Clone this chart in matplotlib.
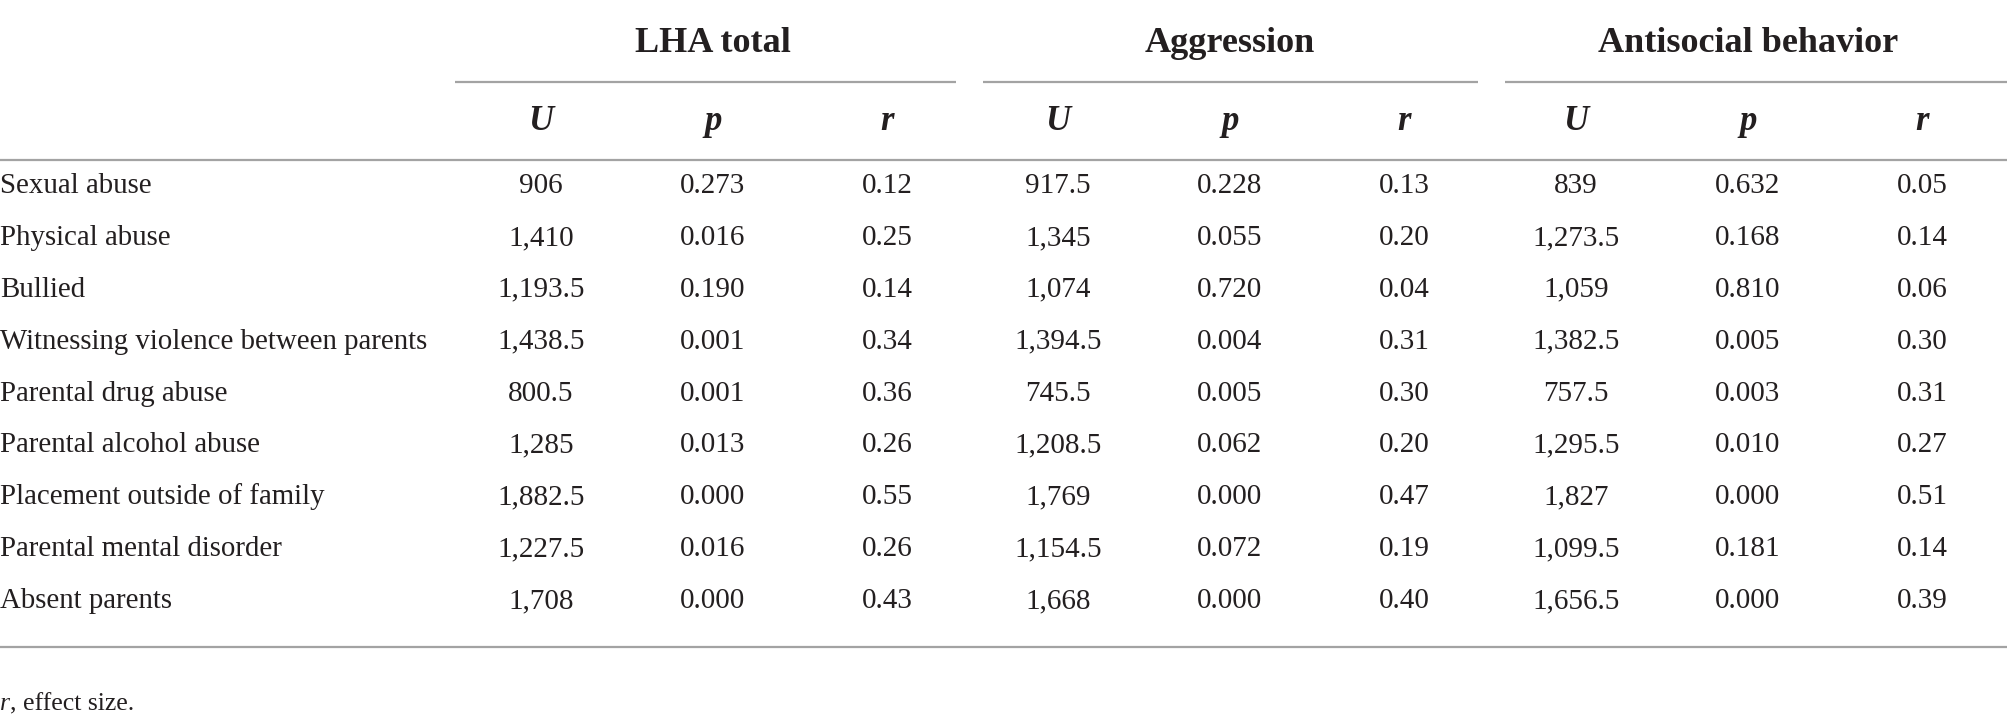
import matplotlib
matplotlib.use("Agg")
import matplotlib.pyplot as plt

# 表格数据
rows = ["Sexual abuse", "Physical abuse", "Bullied",
        "Witnessing violence between parents", "Parental drug abuse",
        "Parental alcohol abuse", "Placement outside of family",
        "Parental mental disorder", "Absent parents"]
groups = ["LHA total", "Aggression", "Antisocial behavior"]
stats = ["U", "p", "r"]

lha_u = [906, 1410, 1193.5, 1438.5, 800.5, 1285, 1882.5, 1227.5, 1708]
lha_p = [0.273, 0.016, 0.190, 0.001, 0.001, 0.013, 0.000, 0.016, 0.000]
lha_r = [0.12, 0.25, 0.14, 0.34, 0.36, 0.26, 0.55, 0.26, 0.43]

agg_u = [917.5, 1345, 1074, 1394.5, 745.5, 1208.5, 1769, 1154.5, 1668]
agg_p = [0.228, 0.055, 0.720, 0.004, 0.005, 0.062, 0.000, 0.072, 0.000]
agg_r = [0.13, 0.20, 0.04, 0.31, 0.30, 0.20, 0.47, 0.19, 0.40]

anti_u = [839, 1273.5, 1059, 1382.5, 757.5, 1295.5, 1827, 1099.5, 1656.5]
anti_p = [0.632, 0.168, 0.810, 0.005, 0.003, 0.010, 0.000, 0.181, 0.000]
anti_r = [0.05, 0.14, 0.06, 0.30, 0.31, 0.27, 0.51, 0.14, 0.39]

footnote = "effect size."

W, H = 2008, 724
ink = "#231f20"
rule = "#a3a3a3"
font = "Liberation Serif"


def fmt_u(v):
    return f"{v:,.0f}" if float(v).is_integer() else f"{v:,.1f}"


fig = plt.figure(figsize=(W / 100, H / 100), dpi=100)
ax = fig.add_axes([0, 0, 1, 1])
ax.set_xlim(0, W)
ax.set_ylim(H, 0)
ax.axis("off")

# 列位置 (基线对齐)
group_x0 = [541, 1058, 1576]
col_off = [0, 172, 346]
spans = [(455, 956), (983, 1478), (1505, 2008)]
row_y0, row_dy = 193, 51.9

cols = [(lha_u, lha_p, lha_r), (agg_u, agg_p, agg_r), (anti_u, anti_p, anti_r)]

for g, name in enumerate(groups):
    x0 = group_x0[g]
    ax.text(x0 + col_off[1], 52, name, ha="center", va="baseline",
            fontsize=26, fontweight="bold", family=font, color=ink)
    ax.plot(spans[g], [82, 82], color=rule, lw=1.6, solid_capstyle="butt")
    for k, s in enumerate(stats):
        ax.text(x0 + col_off[k], 130, s, ha="center", va="baseline",
                fontsize=25, fontweight="bold", fontstyle="italic",
                family=font, color=ink)
    u, p, r = cols[g]
    for i in range(len(rows)):
        y = row_y0 + i * row_dy
        vals = [fmt_u(u[i]), f"{p[i]:.3f}", f"{r[i]:.2f}"]
        for k, v in enumerate(vals):
            ax.text(x0 + col_off[k], y, v, ha="center", va="baseline",
                    fontsize=21, family=font, color=ink)

for i, name in enumerate(rows):
    ax.text(0, row_y0 + i * row_dy, name, ha="left", va="baseline",
            fontsize=20.8, family=font, color=ink)

ax.plot([0, W], [160, 160], color=rule, lw=1.6, solid_capstyle="butt")
ax.plot([0, W], [647, 647], color=rule, lw=1.6, solid_capstyle="butt")

ax.text(0, 710, "r", ha="left", va="baseline", fontsize=18.5,
        fontstyle="italic", family=font, color=ink)
ax.text(10, 710, ", " + footnote, ha="left", va="baseline", fontsize=18.5,
        family=font, color=ink)

fig.savefig("out.png", dpi=100)
